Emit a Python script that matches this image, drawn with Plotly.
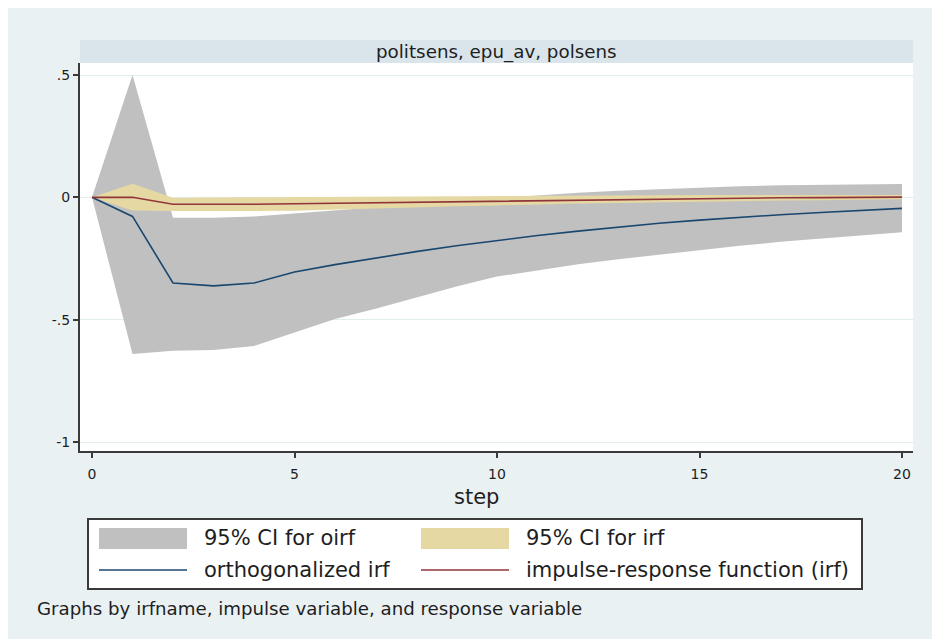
import plotly.graph_objects as go

# ---------------- data ----------------
steps = list(range(21))
oirf = [0, -0.078, -0.350, -0.362, -0.350, -0.305, -0.275, -0.248, -0.222, -0.198, -0.176,
        -0.156, -0.138, -0.121, -0.106, -0.093, -0.081, -0.071, -0.062, -0.053, -0.045]
oirf_lo = [0, -0.640, -0.627, -0.624, -0.608, -0.553, -0.497, -0.455, -0.408, -0.364, -0.324,
           -0.297, -0.273, -0.253, -0.234, -0.215, -0.198, -0.182, -0.168, -0.155, -0.143]
oirf_hi = [0, 0.500, -0.083, -0.083, -0.078, -0.065, -0.055, -0.040, -0.028, -0.016, -0.004,
           0.008, 0.019, 0.027, 0.034, 0.040, 0.045, 0.049, 0.051, 0.053, 0.054]
irf = [0, 0.000, -0.028, -0.029, -0.028, -0.026, -0.024, -0.021, -0.019, -0.016, -0.013,
       -0.011, -0.009, -0.007, -0.006, -0.005, -0.003, -0.002, -0.001, 0.000, 0.001]
irf_lo = [0, -0.054, -0.056, -0.057, -0.056, -0.055, -0.050, -0.044, -0.040, -0.036, -0.033,
          -0.028, -0.025, -0.023, -0.020, -0.017, -0.015, -0.013, -0.012, -0.010, -0.008]
irf_hi = [0, 0.056, -0.002, -0.001, 0.000, 0.003, 0.003, 0.004, 0.005, 0.006, 0.007,
          0.008, 0.009, 0.009, 0.010, 0.010, 0.010, 0.010, 0.010, 0.010, 0.010]

x_ticks = [0, 5, 10, 15, 20]
x_tick_labels = ["0", "5", "10", "15", "20"]
y_ticks = [0.5, 0, -0.5, -1]
y_tick_labels = [".5", "0", "-.5", "-1"]

panel_title = "politsens, epu_av, polsens"
x_title = "step"
legend_labels = ["95% CI for oirf", "95% CI for irf", "orthogonalized irf",
                 "impulse-response function (irf)"]
note_text = "Graphs by irfname, impulse variable, and response variable"

# ---------------- styling ----------------
W, H = 932, 639
L, R, T, B = 80, 913, 63, 451  # plot area in pixels
BG = "#eaf1f3"
STRIP = "#d9e5eb"
GRAY = "#c0c0c0"
SAND = "#e6d8a3"
NAVY = "#1a476f"
MAROON = "#90353b"
AX = "#3a3a3a"
TXT = "#1e1e1e"
FONT = "DejaVu Sans, Verdana, sans-serif"


def px(x):
    return (x - L) / (R - L)


def py(y):
    return (B - y) / (B - T)


fig = go.Figure()

# oirf CI (gray)
fig.add_trace(go.Scatter(x=steps, y=oirf_lo, mode="lines", line=dict(width=0, color=GRAY),
                         showlegend=False, hoverinfo="skip"))
fig.add_trace(go.Scatter(x=steps, y=oirf_hi, mode="lines", line=dict(width=0, color=GRAY),
                         fill="tonexty", fillcolor=GRAY, showlegend=False, name=legend_labels[0]))
# irf CI (sand)
fig.add_trace(go.Scatter(x=steps, y=irf_lo, mode="lines", line=dict(width=0, color=SAND),
                         showlegend=False, hoverinfo="skip"))
fig.add_trace(go.Scatter(x=steps, y=irf_hi, mode="lines", line=dict(width=0, color=SAND),
                         fill="tonexty", fillcolor=SAND, showlegend=False, name=legend_labels[1]))
# lines
fig.add_trace(go.Scatter(x=steps, y=oirf, mode="lines", line=dict(width=1.6, color=NAVY),
                         showlegend=False, name=legend_labels[2]))
fig.add_trace(go.Scatter(x=steps, y=irf, mode="lines", line=dict(width=1.6, color=MAROON),
                         showlegend=False, name=legend_labels[3]))

xr = [0 - 12 / 40.5, 20 + 11 / 40.5]
yr = [-1 - 9 / 244.7, 0.5 + 12 / 244.7]

fig.update_layout(
    width=W, height=H,
    margin=dict(l=L, r=W - R, t=T, b=H - B, pad=0),
    paper_bgcolor=BG, plot_bgcolor="white",
    showlegend=False,
    font=dict(family=FONT, color=TXT),
    xaxis=dict(range=xr, tickvals=x_ticks, ticktext=x_tick_labels, showgrid=False,
               zeroline=False, showline=True, linecolor=AX, linewidth=2,
               ticks="outside", ticklen=5, tickwidth=1.5, tickcolor=AX,
               tickfont=dict(size=14, color=TXT), ticklabelstandoff=4),
    yaxis=dict(range=yr, tickvals=y_ticks, ticktext=y_tick_labels, showgrid=True,
               gridcolor="#e2ebee", gridwidth=1, zeroline=False, showline=True,
               linecolor=AX, linewidth=2, ticks="outside", ticklen=5, tickwidth=1.5,
               tickcolor=AX, tickfont=dict(size=14, color=TXT)),
)

shapes = []
# white page margins top/left
shapes.append(dict(type="rect", xref="paper", yref="paper", x0=px(-50), x1=px(W + 50),
                   y0=py(8), y1=py(-50), fillcolor="white", line=dict(width=0), layer="above"))
shapes.append(dict(type="rect", xref="paper", yref="paper", x0=px(-50), x1=px(8),
                   y0=py(H + 50), y1=py(-50), fillcolor="white", line=dict(width=0), layer="above"))
# strip
shapes.append(dict(type="rect", xref="paper", yref="paper", x0=0, x1=1, y0=1, y1=py(40),
                   fillcolor=STRIP, line=dict(width=0)))
# legend box
shapes.append(dict(type="rect", xref="paper", yref="paper", x0=px(88), x1=px(862),
                   y0=py(589), y1=py(519), fillcolor="white", line=dict(color=AX, width=2)))
shapes.append(dict(type="rect", xref="paper", yref="paper", x0=px(99), x1=px(187),
                   y0=py(549), y1=py(528), fillcolor=GRAY, line=dict(width=0)))
shapes.append(dict(type="rect", xref="paper", yref="paper", x0=px(421), x1=px(509),
                   y0=py(549), y1=py(528), fillcolor=SAND, line=dict(width=0)))
shapes.append(dict(type="line", xref="paper", yref="paper", x0=px(99), x1=px(187),
                   y0=py(570), y1=py(570), line=dict(color=NAVY, width=1.6)))
shapes.append(dict(type="line", xref="paper", yref="paper", x0=px(421), x1=px(509),
                   y0=py(570), y1=py(570), line=dict(color=MAROON, width=1.6)))
fig.update_layout(shapes=shapes)

ann = []
ann.append(dict(text=panel_title, xref="paper", yref="paper", x=0.5, y=py(51.5),
                xanchor="center", yanchor="middle", showarrow=False,
                font=dict(family=FONT, size=18.3, color=TXT)))
ann.append(dict(text=x_title, xref="paper", yref="paper", x=px(476), y=py(497),
                xanchor="center", yanchor="middle", showarrow=False,
                font=dict(family=FONT, size=21, color=TXT)))
legend_pos = [(202, 538), (524, 538), (202, 570), (524, 570)]
for lab, (lx, ly) in zip(legend_labels, legend_pos):
    ann.append(dict(text=lab, xref="paper", yref="paper", x=px(lx), y=py(ly),
                    xanchor="left", yanchor="middle", showarrow=False,
                    font=dict(family=FONT, size=21, color=TXT)))
ann.append(dict(text=note_text, xref="paper", yref="paper", x=px(35), y=py(608),
                xanchor="left", yanchor="middle", showarrow=False,
                font=dict(family=FONT, size=18.2, color=TXT)))
fig.update_layout(annotations=ann)

fig.write_html("out.html")
